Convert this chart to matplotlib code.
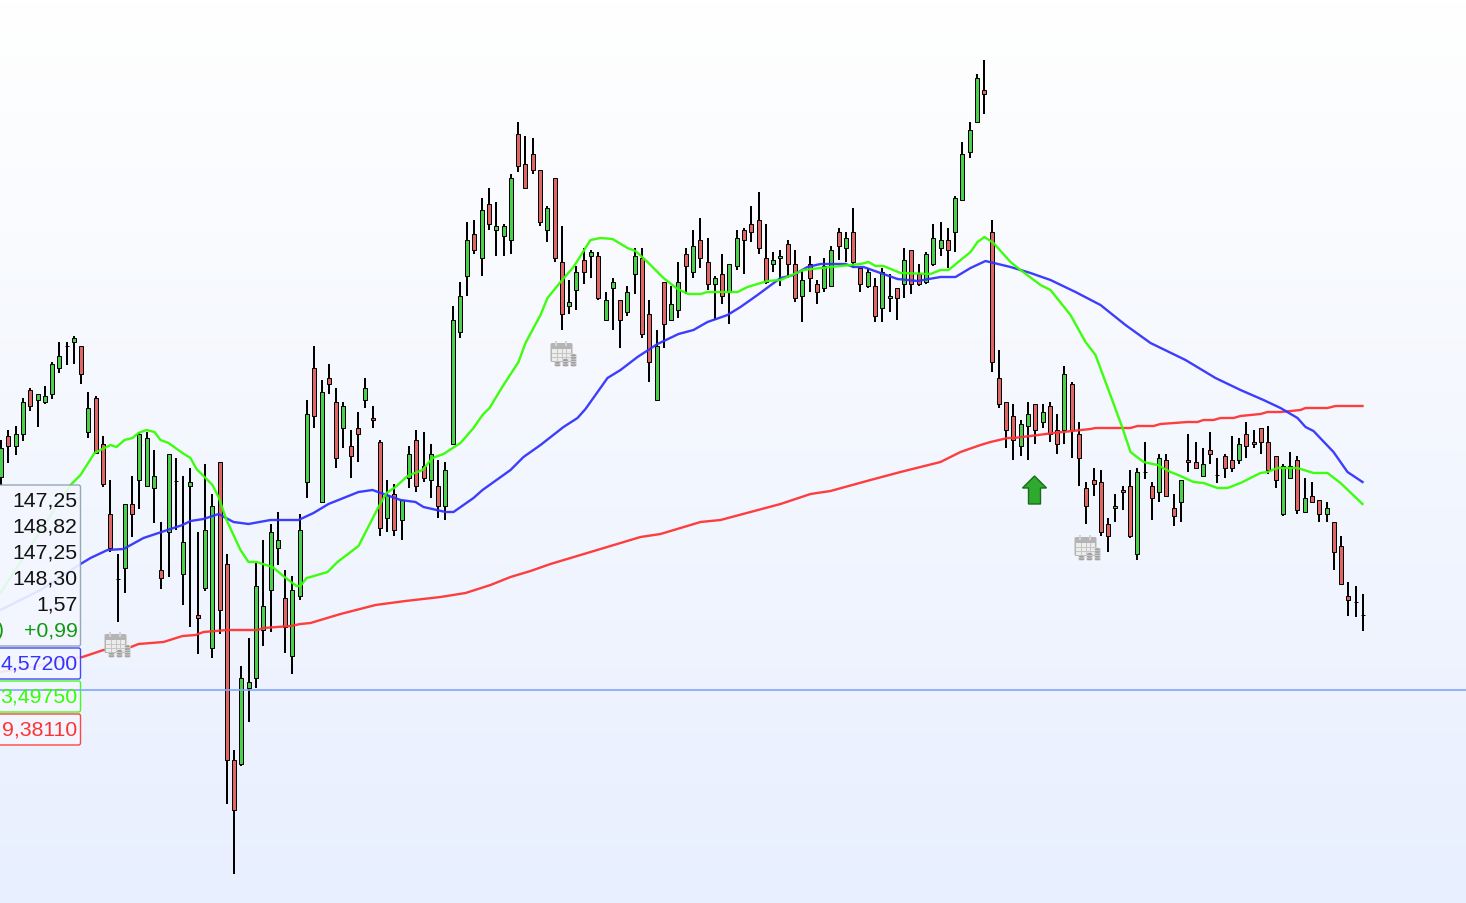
import numpy as np
import matplotlib

matplotlib.use('agg')
import matplotlib.pyplot as plt
from matplotlib.patches import FancyBboxPatch, Polygon, Rectangle, Ellipse

plt.rcParams['font.family'] = ['Liberation Sans', 'DejaVu Sans']

# chart units (no price axis is shown, y grows downwards)
highs = [440, 430, 426, 398, 388, 394, 386, 362, 342, 342,
         336, 346, 392, 396, 436, 480, 554, 504, 476, 432,
         432, 450, 522, 454, 458, 476, 468, 532, 464, 494,
         462, 554, 750, 666, 638, 563, 540, 524, 512, 570,
         576, 514, 400, 346, 380, 364, 388, 402, 430, 412,
         378, 406, 440, 480, 484, 500, 446, 430, 432, 444,
         460, 462, 306, 282, 222, 220, 198, 188, 202, 224,
         174, 122, 136, 138, 170, 206, 178, 226, 280, 266,
         248, 250, 252, 292, 278, 300, 286, 248, 248, 300,
         330, 282, 286, 262, 248, 230, 218, 238, 276, 254,
         264, 230, 228, 206, 192, 224, 252, 250, 240, 250,
         270, 256, 280, 258, 246, 228, 232, 208, 268, 268,
         278, 268, 274, 288, 248, 250, 264, 252, 224, 222,
         228, 196, 142, 122, 74, 60, 220, 350, 402, 404,
         420, 402, 404, 404, 402, 414, 366, 382, 422, 482,
         468, 470, 518, 494, 486, 470, 468, 442, 482, 454,
         454, 494, 480, 434, 442, 448, 432, 458, 454, 436,
         438, 422, 430, 428, 426, 456, 464, 452, 456, 478,
         482, 500, 502, 522, 536, 582, 586, 594]
lows = [485, 463, 455, 441, 411, 427, 404, 399, 373, 365,
        364, 384, 438, 453, 487, 552, 622, 593, 537, 509,
        486, 523, 589, 577, 530, 605, 627, 654, 591, 658,
        634, 804, 874, 766, 722, 688, 646, 632, 565, 653,
        674, 600, 498, 428, 502, 394, 468, 448, 478, 462,
        408, 428, 536, 532, 536, 540, 488, 492, 482, 498,
        518, 520, 444, 338, 296, 254, 276, 230, 256, 256,
        254, 172, 188, 174, 226, 242, 262, 330, 314, 310,
        284, 278, 300, 320, 330, 348, 316, 294, 338, 382,
        400, 348, 320, 318, 294, 278, 268, 290, 320, 304,
        324, 270, 274, 242, 254, 284, 272, 286, 278, 302,
        322, 292, 304, 292, 286, 260, 262, 268, 292, 288,
        322, 322, 312, 320, 298, 294, 286, 284, 266, 256,
        268, 252, 200, 158, 122, 114, 372, 408, 448, 460,
        456, 460, 444, 428, 442, 454, 444, 458, 486, 524,
        496, 536, 552, 522, 510, 538, 560, 479, 520, 502,
        496, 526, 522, 472, 468, 476, 464, 483, 478, 472,
        464, 458, 448, 454, 474, 488, 516, 478, 514, 512,
        502, 522, 522, 570, 584, 616, 617, 631]
opens = [477, 436, 446, 434, 390, 400, 402, 394, 368, 346,
         342, 346, 432, 398, 444, 514, 579, 568, 504, 480,
         486, 488, 570, 532, 481, 574, 486, 615, 588, 648,
         462, 564, 760, 764, 688, 678, 630, 590, 548, 598,
         656, 596, 482, 368, 502, 378, 402, 428, 446, 428,
         400, 418, 442, 518, 494, 520, 478, 440, 466, 480,
         486, 506, 444, 332, 276, 234, 258, 204, 230, 236,
         240, 134, 164, 154, 170, 230, 178, 262, 306, 290,
         260, 256, 256, 320, 288, 300, 312, 274, 258, 314,
         400, 282, 320, 310, 254, 272, 240, 262, 284, 274,
         292, 266, 230, 224, 220, 258, 264, 258, 244, 264,
         296, 264, 284, 288, 286, 232, 248, 232, 268, 286,
         286, 308, 298, 288, 284, 250, 274, 282, 264, 248,
         240, 232, 200, 152, 122, 90, 232, 378, 402, 416,
         446, 426, 404, 422, 406, 430, 430, 384, 434, 488,
         480, 482, 524, 508, 490, 486, 554, 472, 486, 492,
         460, 508, 502, 460, 462, 476, 450, 475, 456, 460,
         460, 434, 442, 428, 442, 456, 514, 478, 460, 512,
         496, 500, 514, 522, 546, 596, 602, 615]
closes = [448, 446, 434, 402, 406, 394, 396, 364, 356, 346,
          338, 374, 408, 453, 484, 548, 579, 504, 514, 434,
          438, 476, 578, 454, 481, 542, 482, 618, 530, 506,
          610, 760, 810, 678, 682, 586, 606, 532, 540, 627,
          590, 530, 414, 416, 392, 384, 458, 406, 456, 434,
          388, 420, 528, 495, 530, 500, 454, 486, 478, 454,
          506, 470, 320, 296, 240, 250, 210, 224, 226, 226,
          178, 166, 188, 170, 222, 208, 258, 314, 302, 272,
          272, 252, 298, 300, 282, 320, 292, 256, 334, 362,
          346, 324, 304, 282, 266, 246, 258, 284, 278, 296,
          264, 238, 240, 232, 248, 282, 260, 256, 264, 298,
          280, 278, 292, 266, 250, 246, 238, 262, 284, 272,
          316, 272, 296, 298, 260, 284, 284, 254, 238, 240,
          250, 198, 154, 130, 78, 94, 362, 404, 430, 440,
          424, 414, 430, 412, 434, 444, 374, 430, 458, 506,
          484, 532, 536, 506, 492, 536, 472, 472, 498, 458,
          496, 516, 480, 462, 468, 464, 454, 475, 468, 468,
          444, 446, 444, 442, 470, 480, 466, 466, 510, 498,
          502, 514, 508, 552, 584, 600, 602, 615]

green_x = [0, 47, 70, 80, 94, 110, 116, 124, 132, 138, 146, 154, 160, 168, 182, 190, 196,
           212, 218, 226, 240, 248, 256, 272, 284, 296, 300, 306, 310, 327, 337, 358,
           378, 386, 395, 407, 422, 432, 443, 460, 473, 482, 489, 503, 518, 525, 540,
           547, 560, 573, 590, 600, 612, 627, 635, 647, 663, 677, 688, 700, 707, 737,
           747, 767, 780, 803, 820, 840, 860, 868, 875, 883, 900, 930, 940, 948, 970,
           977, 984, 993, 1010, 1020, 1040, 1050, 1070, 1085, 1095, 1108, 1122, 1130,
           1143, 1157, 1170, 1180, 1193, 1203, 1217, 1227, 1240, 1260, 1267, 1277, 1297,
           1313, 1327, 1340, 1362]
green_y = [593, 520, 485, 475, 453, 445, 447, 440, 438, 433, 430, 432, 440, 443, 453, 458, 469,
           485, 497, 520, 550, 562, 562, 567, 577, 586, 586, 578, 577, 572, 562, 546,
           507, 493, 487, 476, 470, 458, 454, 443, 428, 415, 408, 385, 362, 343, 315,
           298, 282, 267, 240, 238, 239, 248, 251, 262, 278, 289, 294, 294, 292, 292,
           287, 281, 280, 270, 268, 266, 264, 262, 266, 266, 273, 274, 270, 270, 252,
           242, 237, 243, 262, 270, 285, 290, 315, 342, 355, 390, 428, 452,
           462, 465, 472, 476, 482, 483, 488, 488, 483, 473, 472, 468, 468,
           473, 473, 483, 504]
blue_x = [0, 40, 80, 90, 107, 123, 143, 167, 182, 190, 203, 218, 233, 248, 270, 298, 313,
          328, 343, 358, 372, 400, 415, 423, 445, 453, 473, 482, 510, 523, 540, 563,
          577, 585, 607, 620, 637, 657, 678, 693, 707, 727, 740, 757, 780, 793, 807,
          820, 845, 853, 863, 897, 917, 940, 955, 970, 985, 1010, 1030, 1050, 1075,
          1100, 1125, 1150, 1185, 1215, 1240, 1263, 1280, 1297, 1305, 1313, 1333, 1347, 1362]
blue_y = [610, 590, 564, 558, 550, 549, 538, 530, 525, 521, 519, 514, 522, 524, 520, 520, 513,
          504, 498, 492, 490, 500, 502, 507, 512, 512, 498, 490, 470, 457, 445, 427,
          418, 409, 378, 370, 357, 344, 334, 330, 322, 315, 307, 295, 278, 275, 267,
          264, 264, 267, 267, 279, 281, 277, 277, 268, 261, 267, 273, 280, 292,
          305, 325, 343, 360, 378, 390, 400, 408, 418, 427, 431, 452, 472, 482]
red_x = [0, 33, 60, 82, 103, 128, 138, 163, 182, 195, 203, 227, 257, 263, 290, 300, 310, 340,
         375, 405, 440, 465, 490, 510, 530, 550, 580, 610, 640, 660, 700, 720, 750, 780, 810,
         830, 870, 900, 940, 960, 980, 990, 1007, 1013, 1030, 1053, 1090, 1095, 1130, 1137,
         1153, 1160, 1187, 1197, 1203, 1213, 1220, 1233, 1240, 1260, 1267, 1280, 1300,
         1305, 1327, 1335, 1362]
red_y = [672, 667, 660, 657, 650, 648, 644, 642, 636, 635, 632, 630, 630, 628, 626, 624, 623,
         614, 605, 601, 597, 593, 585, 577, 571, 564, 555, 546, 537, 534, 522, 520, 512, 504,
         494, 491, 480, 472, 462, 452, 445, 442, 438, 438, 436, 433, 429, 428, 428, 426,
         426, 424, 422, 422, 420, 420, 418, 418, 416, 414, 412, 412, 410,
         408, 408, 406, 406]

panel_labels = ['147,25', '148,82', '147,25', '148,30', '1,57', '+0,99']
ma_labels = ['4,57200', '3,49750', '9,38110']
ma_colors = ['#3333ff', '#33ff00', '#ff3333']
calendars = [(116, 644), (562, 353), (1086, 547)]

bar_step = 7.283
level = 690

up_color = '#4ccf4c'
down_color = '#e06666'


def draw_calendar(ax, cx, cy):
    # grey calendar page with binder rings and three stacks of coins
    ax.add_patch(FancyBboxPatch((cx - 12, cy - 10), 22, 19, boxstyle='round,pad=0,rounding_size=1.5',
                                fc='#b4b4b4', ec='none', zorder=6))
    ax.add_patch(Rectangle((cx - 10.5, cy - 4), 19, 12, fc='#ececec', ec='none', zorder=6))
    for gx in range(1, 4):
        ax.plot([cx - 10.5 + gx * 4.75] * 2, [cy - 4, cy + 8], color='#c4c4c4', lw=0.7, zorder=6)
    for gy in range(1, 3):
        ax.plot([cx - 10.5, cx + 8.5], [cy - 4 + gy * 4] * 2, color='#c4c4c4', lw=0.7, zorder=6)
    for rx in (-7, 3):
        ax.add_patch(Rectangle((cx + rx - 1, cy - 12), 2.4, 5, fc='#d4d4d4', ec='none', zorder=6))
    for dx, n in [(-5, 2), (3, 3), (11, 5)]:
        for j in range(n):
            ax.add_patch(Ellipse((cx + dx, cy + 12 - j * 2.4), 6.4, 3, fc='#a0a0a0',
                                 ec='#e4e4e4', lw=0.4, zorder=6))


fig = plt.figure(figsize=(14.66, 9.04), dpi=100)
ax = fig.add_axes([0, 0, 1, 1])
ax.set_xlim(-0.5, 1465.5)
ax.set_ylim(903, -1)
ax.axis('off')

# window background
shade = np.linspace(0, 1, 256).reshape(-1, 1)
bg = np.ones((256, 1, 3))
bg[:, :, 0] = 1 - shade * (23 / 255)
bg[:, :, 1] = 1 - shade * (16 / 255)
bg[:, :, 2] = 1 - shade * (1 / 255)
ax.imshow(bg, extent=(-0.5, 1465.5, 903, -1), aspect='auto', zorder=0)

highs = np.array(highs)
lows = np.array(lows)
opens = np.array(opens)
closes = np.array(closes)
bars = np.round(0.1 + bar_step * np.arange(len(opens)))
colors = [up_color if c < o else down_color for o, c in zip(opens, closes)]

# wicks as filled bars so they stay a crisp 2 pixels wide
ax.bar(bars, lows - highs, bottom=highs, width=2, color='black', lw=0, zorder=2)
ax.bar(bars, np.abs(closes - opens), bottom=np.minimum(opens, closes), width=4,
       color=colors, edgecolor='black', lw=0.72, zorder=3)

ax.plot(red_x, red_y, color='#ff3333', lw=1.7, alpha=0.95, zorder=4)
ax.plot(blue_x, blue_y, color='#3333ff', lw=1.7, alpha=0.95, zorder=4)
ax.plot(green_x, green_y, color='#33ff00', lw=1.7, alpha=0.95, zorder=4)

for cx, cy in calendars:
    draw_calendar(ax, cx, cy)

# buy arrow
ax.add_patch(Polygon([(1034, 476), (1046, 488), (1040, 488), (1040, 504), (1028, 504),
                      (1028, 488), (1022, 488)], fc='#2eaa2e', ec='#1a6b1a', lw=1, zorder=6))

# value panel on the left
ax.add_patch(FancyBboxPatch((-8, 485), 88, 161, boxstyle='round,pad=0,rounding_size=2',
                            fc='#f4f7ff', ec='#8aa0b0', lw=1, alpha=0.9, zorder=7))
for i, txt in enumerate(panel_labels):
    ax.text(77, 500 + i * 26, txt, ha='right', va='center', fontsize=15.3,
            color='#111111' if i < 5 else '#119911', zorder=9)
ax.text(-4, 630, ')', ha='left', va='center', fontsize=15.3, color='#119911', zorder=9)

for i, (txt, col, y0, h) in enumerate(zip(ma_labels, ma_colors, [648, 681, 714], [31, 31, 31])):
    ax.add_patch(FancyBboxPatch((-8, y0), 88, h, boxstyle='round,pad=0,rounding_size=2',
                                fc='#f4f7ff', ec=col, lw=1, alpha=0.9, zorder=7))
    ax.text(77, y0 + 15, txt, ha='right', va='center', fontsize=15.3, color=col, zorder=9)

# the level line runs over the boxes
ax.axhline(level, color='#7fa6ff', lw=1.2, zorder=8)

fig.savefig('out.png', dpi=100)
